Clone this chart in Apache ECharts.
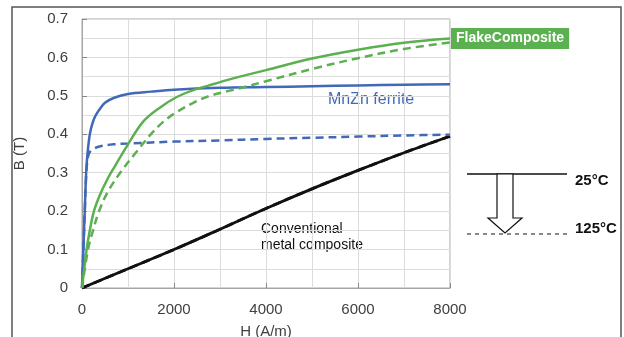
<!DOCTYPE html>
<html>
<head>
<meta charset="utf-8">
<script src="https://cdn.jsdelivr.net/npm/echarts@6/dist/echarts.min.js"></script>
<style>
  html, body { margin: 0; padding: 0; background: #fff; }
  #chart { width: 624px; height: 337px; }
</style>
</head>
<body>
<div id="chart"></div>
<script>
// tick labels
var xTicks = [0, 2000, 4000, 6000, 8000];
var yTicks = [0, 0.1, 0.2, 0.3, 0.4, 0.5, 0.6, 0.7];

// FlakeComposite, 25 C (solid) and 125 C (dashed)
var hFlake25 = [0, 100, 170, 260, 400, 560, 720, 970, 1330, 1700, 2060, 2420, 2780, 3150, 3430, 4000, 5000, 6000, 7000, 8000];
var bFlake25 = [0, 0.1, 0.15, 0.2, 0.245, 0.285, 0.318, 0.368, 0.433, 0.47, 0.497, 0.515, 0.528, 0.541, 0.55, 0.567, 0.597, 0.62, 0.638, 0.649];
var hFlake125 = [0, 130, 240, 370, 560, 860, 1190, 1480, 1770, 2060, 2420, 2780, 3150, 3430, 4000, 5000, 6000, 7000, 8000];
var bFlake125 = [0, 0.1, 0.15, 0.2, 0.25, 0.305, 0.355, 0.398, 0.433, 0.458, 0.482, 0.5, 0.512, 0.52, 0.538, 0.57, 0.598, 0.622, 0.639];

// MnZn ferrite
var hFerrite25 = [0, 30, 60, 90, 120, 170, 230, 300, 400, 500, 700, 1000, 1500, 2000, 3000, 4000, 5000, 6000, 7000, 8000];
var bFerrite25 = [0, 0.1, 0.2, 0.3, 0.35, 0.4, 0.43, 0.45, 0.468, 0.482, 0.495, 0.505, 0.511, 0.516, 0.521, 0.523, 0.525, 0.527, 0.529, 0.53];
var hFerrite125 = [0, 30, 60, 90, 120, 160, 250, 400, 700, 1000, 2000, 3000, 4000, 5000, 6000, 7000, 8000];
var bFerrite125 = [0, 0.1, 0.2, 0.29, 0.335, 0.352, 0.362, 0.369, 0.374, 0.376, 0.381, 0.384, 0.388, 0.391, 0.394, 0.397, 0.399];

// conventional metal composite
var hMetal = [0, 1000, 2000, 3000, 4000, 5000, 6000, 7000, 8000];
var bMetal = [0, 0.05, 0.1, 0.153, 0.207, 0.258, 0.306, 0.352, 0.395];

var blue = '#4169b8';
var green = '#5bb04f';

function pairs(xs, ys) {
    return xs.map(function (x, i) { return [x, ys[i]]; });
}

function line(name, xs, ys, color, dashed, width) {
    return {
        name: name,
        type: 'line',
        data: pairs(xs, ys),
        showSymbol: false,
        smooth: 0.35,
        lineStyle: { color: color, width: width || 2.5, type: dashed ? [8, 5] : 'solid' },
        z: 3
    };
}

var chart = echarts.init(document.getElementById('chart'));

var flakeSeries = line('FlakeComposite 25', hFlake25, bFlake25, green, false);
flakeSeries.endLabel = {
    show: true,
    formatter: 'FlakeComposite',
    color: '#fff',
    fontFamily: 'Liberation Sans',
    fontWeight: 'bold',
    fontSize: 14,
    backgroundColor: green,
    padding: [4, 5, 3, 5],
    distance: 1
};

var option = {
    backgroundColor: '#fff',
    animation: false,
    textStyle: { fontFamily: 'Liberation Sans' },
    grid: {
        left: 82, right: 174, top: 19, bottom: 49,
        outerBoundsMode: 'none',
        show: true, borderColor: '#a6a6a6', borderWidth: 1
    },
    xAxis: {
        type: 'value',
        min: 0, max: 8000, interval: 2000,
        name: 'H (A/m)',
        nameLocation: 'middle',
        nameGap: 36,
        nameTextStyle: { fontSize: 15, color: '#404040' },
        axisLine: { show: true, lineStyle: { color: '#a6a6a6' } },
        axisTick: { show: true, inside: true, length: 5, lineStyle: { color: '#888' } },
        axisLabel: { fontSize: 15, color: '#404040', margin: 14, formatter: function (v) { return String(v); } },
        splitLine: { show: true, lineStyle: { color: '#dcdcdc' } },
        minorTick: { show: false, splitNumber: 2 },
        minorSplitLine: { show: true, lineStyle: { color: '#dcdcdc' } }
    },
    yAxis: {
        type: 'value',
        min: 0, max: 0.7, interval: 0.1,
        name: 'B (T)',
        nameLocation: 'middle',
        nameGap: 55,
        nameTextStyle: { fontSize: 15, color: '#404040' },
        axisLine: { show: true, lineStyle: { color: '#a6a6a6' } },
        axisTick: { show: true, inside: true, length: 5, lineStyle: { color: '#888' } },
        axisLabel: {
            fontSize: 15, color: '#404040', margin: 14,
            formatter: function (v) { return v === 0 ? '0' : v.toFixed(1); }
        },
        splitLine: { show: true, lineStyle: { color: '#dcdcdc' } },
        minorTick: { show: false, splitNumber: 2 },
        minorSplitLine: { show: true, lineStyle: { color: '#dcdcdc' } }
    },
    series: [
        line('Metal 125', hMetal, bMetal, '#111', true, 2.8),
        line('Metal 25', hMetal, bMetal, '#111', false, 2.8),
        line('Ferrite 125', hFerrite125, bFerrite125, blue, true),
        line('Ferrite 25', hFerrite25, bFerrite25, blue, false),
        line('FlakeComposite 125', hFlake125, bFlake125, green, true),
        flakeSeries
    ],
    graphic: [
        { type: 'rect', shape: { x: 12, y: 7, width: 609, height: 345 }, style: { fill: 'none', stroke: '#555', lineWidth: 1.5 }, silent: true },
        { type: 'text', left: 328, top: 92, style: { text: 'MnZn ferrite', fill: blue, font: '16px Liberation Sans' } },
        { type: 'text', left: 261, top: 221, style: { text: 'Conventional\nmetal composite', fill: '#111', font: '14px Liberation Sans', lineHeight: 16 } },
        { type: 'line', shape: { x1: 467, y1: 174, x2: 567, y2: 174 }, style: { stroke: '#111', lineWidth: 1.3 } },
        { type: 'line', shape: { x1: 467, y1: 234, x2: 567, y2: 234 }, style: { stroke: '#111', lineWidth: 1, lineDash: [4, 4] } },
        { type: 'polygon', shape: { points: [[497, 174], [513, 174], [513, 218], [522, 218], [505, 233], [488, 218], [497, 218]] }, style: { fill: '#fff', stroke: '#111', lineWidth: 1.2 } },
        { type: 'text', left: 575, top: 173, style: { text: '25°C', fill: '#111', font: 'bold 15px Liberation Sans' } },
        { type: 'text', left: 575, top: 221, style: { text: '125°C', fill: '#111', font: 'bold 15px Liberation Sans' } }
    ]
};

chart.setOption(option);
</script>
</body>
</html>
